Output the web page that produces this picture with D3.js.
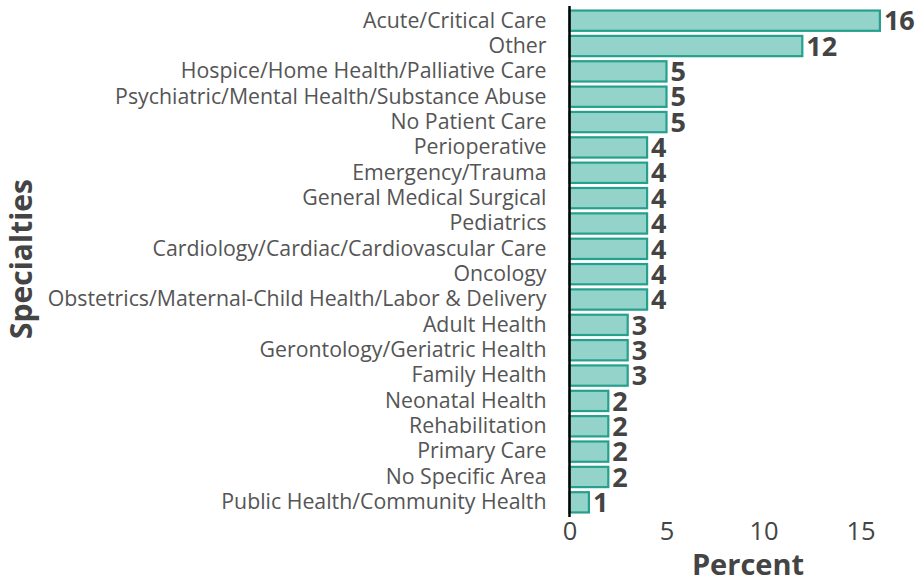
<!DOCTYPE html>
<html>
<head>
<meta charset="utf-8">
<script src="https://cdn.jsdelivr.net/npm/d3@7"></script>
<style>
  body { margin: 0; background: #fff; }
  svg { font-family: "Open Sans", sans-serif; }
</style>
</head>
<body>
<div id="chart"></div>
<script>
const specialties = [
    'Acute/Critical Care', 'Other', 'Hospice/Home Health/Palliative Care',
    'Psychiatric/Mental Health/Substance Abuse', 'No Patient Care', 'Perioperative',
    'Emergency/Trauma', 'General Medical Surgical', 'Pediatrics',
    'Cardiology/Cardiac/Cardiovascular Care', 'Oncology',
    'Obstetrics/Maternal-Child Health/Labor & Delivery', 'Adult Health',
    'Gerontology/Geriatric Health', 'Family Health', 'Neonatal Health',
    'Rehabilitation', 'Primary Care', 'No Specific Area',
    'Public Health/Community Health'
];
const percents = [16, 12, 5, 5, 5, 4, 4, 4, 4, 4, 4, 4, 3, 3, 3, 2, 2, 2, 2, 1];
const xTicks = [0, 5, 10, 15];

const width = 921, height = 579;
const margin = {top: 8, right: 41, bottom: 64, left: 569.5};

const svg = d3.select('#chart')
    .append('svg')
    .attr('width', width)
    .attr('height', height);

const x = d3.scaleLinear()
    .domain([0, 16])
    .range([margin.left, margin.left + 19.4 * 16]);

const y = d3.scaleBand()
    .domain(specialties)
    .range([margin.top, height - margin.bottom])
    .paddingInner(0.2)
    .paddingOuter(0.1);

const rows = specialties.map((s, i) => ({name: s, value: percents[i]}));

svg.selectAll('rect')
    .data(rows)
    .enter()
    .append('rect')
    .attr('x', x(0))
    .attr('y', d => y(d.name))
    .attr('width', d => x(d.value) - x(0))
    .attr('height', y.bandwidth())
    .attr('fill', '#93d3c9')
    .attr('stroke', '#25a08e')
    .attr('stroke-width', 2.2);

svg.selectAll('.val')
    .data(rows)
    .enter()
    .append('text')
    .attr('class', 'val')
    .attr('x', d => x(d.value) + 4)
    .attr('y', d => y(d.name) + y.bandwidth() / 2)
    .attr('dy', '0.36em')
    .attr('font-size', 27)
    .attr('font-weight', 'bold')
    .attr('fill', '#444')
    .text(d => d.value);

// y axis labels
const yAxis = svg.append('g')
    .attr('transform', `translate(${margin.left},0)`)
    .call(d3.axisLeft(y).tickSize(0).tickPadding(23));
yAxis.select('.domain').attr('stroke', '#000').attr('stroke-width', 2.5)
    .attr('d', `M0,${y.range()[0] - 2}V${y.range()[1] + 2}`);
yAxis.selectAll('text')
    .attr('font-size', 21.3)
    .attr('font-family', '"Open Sans", sans-serif')
    .attr('fill', '#555');

// x axis
const xAxis = svg.append('g')
    .attr('transform', `translate(0,${height - margin.bottom})`)
    .call(d3.axisBottom(x).tickValues(xTicks).tickSize(0).tickPadding(7));
xAxis.select('.domain').remove();
xAxis.selectAll('text')
    .attr('font-size', 25.5)
    .attr('font-family', '"Open Sans", sans-serif')
    .attr('fill', '#444');

svg.append('text')
    .attr('x', 748)
    .attr('y', 575)
    .attr('text-anchor', 'middle')
    .attr('font-size', 29)
    .attr('font-weight', 'bold')
    .attr('fill', '#444')
    .text('Percent');

svg.append('text')
    .attr('transform', 'translate(32,259) rotate(-90)')
    .attr('text-anchor', 'middle')
    .attr('font-size', 30)
    .attr('font-weight', 'bold')
    .attr('fill', '#444')
    .text('Specialties');
</script>
</body>
</html>
